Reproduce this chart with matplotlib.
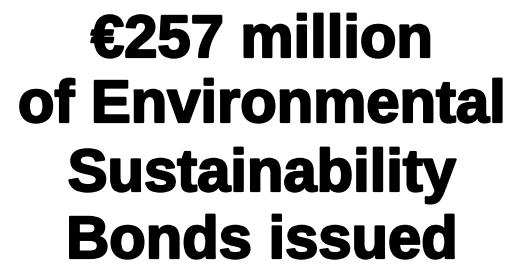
import matplotlib
matplotlib.use("Agg")
import matplotlib.pyplot as plt
import matplotlib.patheffects as pe

# headline text, one entry per line
lines = ["€257 million", "of Environmental", "Sustainability", "Bonds issued"]
# baselines measured from the top edge, in pixels
baselines = [57, 122, 191, 258]

fig = plt.figure(figsize=(5.22, 2.70), dpi=100)
fig.patch.set_facecolor("white")
ax = fig.add_axes([0, 0, 1, 1])
ax.set_xlim(0, 522)
ax.set_ylim(270, 0)
ax.axis("off")

# the original face is heavier than Liberation Sans Bold, so thicken a little
heavy = [pe.withStroke(linewidth=1.6, foreground="black")]

for text, y in zip(lines, baselines):
    ax.text(262, y, text, ha="center", va="baseline",
            fontsize=43, fontweight="bold", color="black",
            family=["Liberation Sans", "DejaVu Sans"],
            path_effects=heavy)

fig.savefig("out.png", dpi=100, facecolor="white")
